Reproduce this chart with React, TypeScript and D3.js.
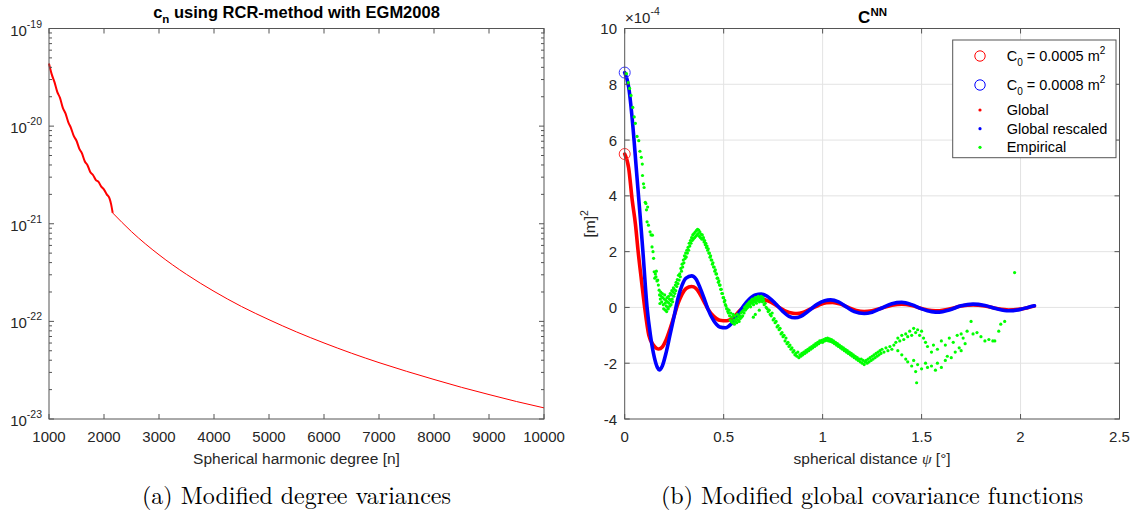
import React from 'react';
import * as d3 from 'd3';

// ---------- Left chart data: modified degree variances c_n ----------
const degreesNoisy = [1000, 1050, 1100, 1150, 1200, 1250, 1300, 1350, 1400, 1450, 1500, 1550, 1600, 1650, 1700, 1750, 1800, 1850, 1900, 1950, 2000, 2050, 2100, 2130, 2158];
const cnNoisy = [4.37e-20, 3.39e-20, 2.82e-20, 2.24e-20, 1.95e-20, 1.55e-20, 1.35e-20, 1.10e-20, 9.55e-21, 7.94e-21, 7.08e-21, 5.89e-21, 5.25e-21, 4.37e-21, 3.98e-21, 3.39e-21, 3.16e-21, 2.82e-21, 2.69e-21, 2.40e-21, 2.24e-21, 2.00e-21, 1.82e-21, 1.58e-21, 1.29e-21];
const degreesTail = [2158, 2500, 3000, 3500, 4000, 4500, 5000, 5500, 6000, 6500, 7000, 7500, 8000, 8500, 9000, 9500, 10000];
const cnTail = [1.29e-21, 8.30e-22, 4.81e-22, 3.03e-22, 2.03e-22, 1.42e-22, 1.04e-22, 7.80e-23, 6.01e-23, 4.72e-23, 3.78e-23, 3.08e-23, 2.54e-23, 2.11e-23, 1.78e-23, 1.51e-23, 1.30e-23];
const degreeTicks = [1000, 2000, 3000, 4000, 5000, 6000, 7000, 8000, 9000, 10000];
const decadeExponents = [-19, -20, -21, -22, -23];

// ---------- Right chart data: covariance functions (units of 1e-4 m^2) ----------
const psiGlobal = [0, 0.02, 0.038, 0.054, 0.068, 0.085, 0.1, 0.122, 0.145, 0.16, 0.172, 0.19, 0.21, 0.23, 0.25, 0.27, 0.29, 0.31, 0.338, 0.36, 0.38, 0.4, 0.42, 0.45, 0.48, 0.515, 0.55, 0.58, 0.62, 0.65, 0.69, 0.73, 0.77, 0.81, 0.85, 0.87, 0.9, 0.94, 0.98, 1.02, 1.05, 1.09, 1.13, 1.17, 1.21, 1.25, 1.3, 1.35, 1.4, 1.45, 1.5, 1.55, 1.59, 1.64, 1.7, 1.76, 1.82, 1.88, 1.94, 2.0, 2.04, 2.07];
const valuesGlobal = [5.5, 5.0, 3.84, 3.0, 2.0, 0.95, 0.05, -1.0, -1.35, -1.46, -1.49, -1.42, -1.15, -0.75, -0.3, 0.15, 0.48, 0.68, 0.75, 0.68, 0.48, 0.22, -0.05, -0.32, -0.46, -0.48, -0.35, -0.12, 0.12, 0.26, 0.3, 0.22, 0.05, -0.12, -0.21, -0.22, -0.18, -0.05, 0.08, 0.17, 0.18, 0.12, 0.0, -0.11, -0.15, -0.12, -0.02, 0.08, 0.12, 0.07, -0.04, -0.11, -0.12, -0.06, 0.05, 0.09, 0.05, -0.04, -0.09, -0.06, 0.0, 0.05];
const psiRescaled = [0, 0.02, 0.04, 0.06, 0.08, 0.092, 0.113, 0.13, 0.15, 0.165, 0.175, 0.19, 0.21, 0.23, 0.25, 0.27, 0.29, 0.31, 0.338, 0.36, 0.38, 0.4, 0.42, 0.45, 0.48, 0.51, 0.54, 0.57, 0.6, 0.63, 0.66, 0.69, 0.72, 0.76, 0.8, 0.83, 0.86, 0.89, 0.93, 0.97, 1.01, 1.04, 1.08, 1.12, 1.16, 1.21, 1.25, 1.3, 1.35, 1.4, 1.45, 1.5, 1.55, 1.59, 1.64, 1.7, 1.76, 1.82, 1.88, 1.94, 2.0, 2.04, 2.07];
const valuesRescaled = [8.42, 7.9, 6.6, 4.85, 3.1, 2.0, 0.0, -1.0, -1.8, -2.15, -2.24, -2.1, -1.6, -0.95, -0.3, 0.35, 0.8, 1.05, 1.13, 1.02, 0.72, 0.35, -0.05, -0.48, -0.7, -0.73, -0.58, -0.28, 0.05, 0.3, 0.45, 0.48, 0.4, 0.15, -0.15, -0.32, -0.37, -0.32, -0.12, 0.1, 0.24, 0.27, 0.2, 0.02, -0.15, -0.22, -0.17, -0.02, 0.13, 0.18, 0.1, -0.05, -0.15, -0.17, -0.09, 0.06, 0.12, 0.07, -0.05, -0.12, -0.07, 0.01, 0.06];
const empirical: [number, number][] = [
  [0.009, 8.38], [0.018, 8.06], [0.025, 7.85], [0.032, 7.6], [0.041, 7.17], [0.048, 6.83], [0.054, 6.6], [0.0625, 6.13], [0.071, 5.98], [0.077, 5.6], [0.084, 5.38], [0.089, 5.14], [0.09, 4.73], [0.095, 4.43], [0.098, 4.3], [0.104, 3.77], [0.107, 3.73], [0.116, 3.6],
  [0.11, 3.5], [0.113, 3.07], [0.12, 2.95], [0.128, 2.71], [0.133, 2.6], [0.14, 2.59], [0.138, 2.17], [0.143, 2.0], [0.146, 1.76], [0.149, 1.28], [0.152, 1.05], [0.155, 1.2], [0.158, 1.1], [0.16, 1.3], [0.163, 0.95], [0.167, 0.98], [0.17, 0.8], [0.174, 0.62], [0.176, 0.45], [0.178, 0.14], [0.18, 0.3],
  [0.182, 0.55], [0.185, 0.4], [0.187, 0.2], [0.19, 0.5], [0.192, 0.35], [0.195, 0.1], [0.197, -0.05], [0.2, 0.3], [0.202, 0.45], [0.204, 0.15], [0.206, -0.1], [0.208, 0.25], [0.21, 0.05], [0.212, -0.15], [0.214, 0.35], [0.216, 0.2], [0.218, 0.0], [0.22, -0.05], [0.222, 0.4], [0.224, 0.15], [0.226, 0.3], [0.228, 0.05], [0.23, 0.5], [0.232, 0.25], [0.234, 0.1], [0.236, 0.45], [0.238, 0.6], [0.24, 0.3], [0.242, 0.2], [0.244, 0.55], [0.246, 0.7], [0.248, 0.4], [0.25, 0.65], [0.253, 0.5], [0.256, 0.8], [0.258, 0.6], [0.26, 0.9], [0.263, 0.75], [0.266, 1.0], [0.269, 0.85], [0.272, 1.15], [0.275, 0.98],
  [0.278, 1.2], [0.281, 1.1], [0.284, 1.4], [0.287, 1.3], [0.29, 1.55], [0.293, 1.45], [0.296, 1.7], [0.299, 1.6], [0.302, 1.85], [0.305, 1.75], [0.308, 1.95], [0.311, 1.81], [0.314, 2.05], [0.317, 1.95], [0.32, 2.15], [0.323, 2.05], [0.326, 2.3], [0.329, 2.2], [0.332, 2.4], [0.335, 2.3], [0.338, 2.5], [0.341, 2.4], [0.344, 2.6], [0.347, 2.45], [0.35, 2.65], [0.353, 2.5], [0.356, 2.7], [0.359, 2.55], [0.362, 2.75], [0.365, 2.6], [0.368, 2.8], [0.371, 2.65], [0.374, 2.77], [0.377, 2.55], [0.38, 2.7], [0.383, 2.5], [0.386, 2.62], [0.389, 2.45],
  [0.392, 2.6], [0.395, 2.45], [0.398, 2.5], [0.401, 2.35], [0.404, 2.4], [0.407, 2.25], [0.41, 2.3], [0.413, 2.15], [0.416, 2.2], [0.419, 2.05], [0.422, 2.1], [0.425, 1.95], [0.428, 1.95], [0.431, 1.8], [0.434, 1.85], [0.437, 1.7], [0.44, 1.7], [0.443, 1.55], [0.446, 1.6], [0.449, 1.45], [0.452, 1.45], [0.455, 1.3], [0.458, 1.35], [0.461, 1.2], [0.464, 1.2], [0.467, 1.05], [0.47, 1.05], [0.473, 0.9], [0.476, 0.95], [0.479, 0.8], [0.482, 0.8], [0.485, 0.65], [0.488, 0.65], [0.491, 0.5], [0.494, 0.5], [0.497, 0.35], [0.5, 0.35], [0.503, 0.2], [0.506, 0.25], [0.509, 0.1], [0.512, 0.05], [0.515, -0.05], [0.518, -0.05], [0.521, -0.15], [0.524, -0.2], [0.527, -0.1],
  [0.53, -0.3], [0.533, -0.45], [0.536, -0.2], [0.539, -0.5], [0.542, -0.35], [0.545, -0.55], [0.548, -0.25], [0.551, -0.45], [0.554, -0.6], [0.557, -0.3], [0.56, -0.5], [0.563, -0.4], [0.566, -0.55], [0.569, -0.25], [0.572, -0.45], [0.575, -0.35], [0.578, -0.5], [0.581, -0.3], [0.584, -0.4], [0.587, -0.2], [0.59, -0.35], [0.593, -0.15], [0.596, -0.3], [0.6, -0.1],
  [0.603, -0.2], [0.606, 0.0], [0.609, -0.1], [0.612, 0.05], [0.615, -0.05], [0.618, 0.1], [0.621, 0.0], [0.624, 0.15], [0.627, 0.05], [0.63, 0.2], [0.633, 0.1], [0.636, 0.02], [0.639, 0.25], [0.642, 0.15], [0.645, 0.3], [0.648, 0.2], [0.651, 0.1], [0.654, 0.3], [0.657, 0.2], [0.66, 0.35], [0.663, 0.25], [0.666, 0.15], [0.669, 0.35], [0.672, 0.25], [0.675, 0.4], [0.678, 0.3], [0.681, 0.2], [0.684, 0.35], [0.687, 0.25], [0.69, 0.4], [0.693, 0.3], [0.696, 0.2], [0.699, 0.35], [0.702, 0.25], [0.66, -0.25], [0.68, -0.1], [0.65, -0.35],
  [0.705, 0.1], [0.71, 0.15], [0.715, 0.0], [0.72, -0.05], [0.725, -0.15], [0.73, -0.1], [0.735, -0.25], [0.74, -0.3], [0.745, -0.2], [0.75, -0.45], [0.755, -0.4], [0.76, -0.55], [0.765, -0.5], [0.77, -0.7], [0.775, -0.65], [0.78, -0.8], [0.785, -0.75], [0.79, -0.95], [0.795, -0.9], [0.8, -1.05], [0.805, -1.0], [0.81, -1.2], [0.815, -1.1], [0.82, -1.3], [0.825, -1.25], [0.83, -1.4], [0.835, -1.35], [0.84, -1.5], [0.845, -1.45], [0.85, -1.6], [0.855, -1.55], [0.86, -1.7], [0.865, -1.65], [0.87, -1.75], [0.875, -1.6], [0.88, -1.8], [0.885, -1.7],
  [0.89, -1.75], [0.895, -1.65], [0.9, -1.7], [0.905, -1.6], [0.91, -1.65], [0.915, -1.55], [0.92, -1.6], [0.925, -1.5], [0.93, -1.55], [0.935, -1.45], [0.94, -1.5], [0.945, -1.4], [0.95, -1.45], [0.955, -1.35], [0.96, -1.4], [0.965, -1.3], [0.97, -1.35], [0.975, -1.25], [0.98, -1.3], [0.985, -1.2], [0.99, -1.25], [0.995, -1.18], [1.0, -1.25], [1.005, -1.15], [1.01, -1.2], [1.015, -1.12], [1.02, -1.18], [1.025, -1.1], [1.03, -1.2], [1.035, -1.13], [1.04, -1.22], [1.045, -1.15], [1.05, -1.25],
  [1.055, -1.2], [1.06, -1.3], [1.065, -1.25], [1.07, -1.35], [1.075, -1.3], [1.08, -1.4], [1.085, -1.35], [1.09, -1.45], [1.095, -1.4], [1.1, -1.5], [1.105, -1.45], [1.11, -1.55], [1.115, -1.5], [1.12, -1.6], [1.125, -1.55], [1.13, -1.65], [1.135, -1.6], [1.14, -1.7], [1.145, -1.65], [1.15, -1.75], [1.155, -1.7], [1.16, -1.8], [1.165, -1.75], [1.17, -1.85], [1.175, -1.8], [1.18, -1.9], [1.185, -1.85], [1.19, -1.95], [1.195, -1.85], [1.2, -2.0], [1.205, -1.9], [1.21, -2.05], [1.215, -1.95], [1.22, -1.9], [1.225, -2.0],
  [1.23, -1.85], [1.235, -1.95], [1.24, -1.8], [1.245, -1.9], [1.25, -1.75], [1.255, -1.85], [1.26, -1.7], [1.265, -1.8], [1.27, -1.65], [1.275, -1.75], [1.28, -1.6], [1.285, -1.7], [1.29, -1.55], [1.295, -1.65], [1.3, -1.5], [1.31, -1.6], [1.32, -1.45], [1.33, -1.55], [1.34, -1.4], [1.35, -1.5], [1.36, -1.35],
  [1.37, -1.25], [1.38, -1.1], [1.39, -1.2], [1.4, -1.0], [1.41, -1.15], [1.42, -0.95], [1.43, -1.05], [1.44, -0.85], [1.45, -1.0], [1.46, -0.75], [1.47, -0.9], [1.48, -0.8], [1.49, -1.0], [1.5, -0.85], [1.51, -1.1], [1.52, -1.25],
  [1.38, -1.55], [1.4, -1.7], [1.42, -1.85], [1.43, -1.95], [1.45, -2.1], [1.46, -1.9], [1.47, -2.3], [1.475, -2.7], [1.48, -2.05], [1.5, -2.2], [1.52, -2.0], [1.53, -2.15], [1.55, -2.1], [1.57, -2.25], [1.58, -2.0], [1.6, -2.15], [1.62, -1.9], [1.63, -1.75], [1.65, -1.8], [1.67, -1.6], [1.69, -1.45], [1.7, -1.55], [1.72, -1.3],
  [1.53, -1.4], [1.55, -1.6], [1.56, -1.35], [1.58, -1.5], [1.6, -1.2], [1.62, -1.35], [1.64, -1.1], [1.66, -1.25], [1.68, -1.0], [1.7, -0.95], [1.71, -1.1], [1.73, -0.85], [1.75, -0.5], [1.76, -0.95], [1.78, -0.9], [1.8, -1.05], [1.82, -1.2], [1.84, -1.15], [1.86, -1.2], [1.87, -1.2], [1.89, -0.85], [1.9, -0.6], [1.92, -0.5], [1.97, 1.25],
];
const psiTicks = [0, 0.5, 1, 1.5, 2, 2.5];
const covTicks = [-4, -2, 0, 2, 4, 6, 8, 10];

const FONT = "'Liberation Sans', Arial, Helvetica, sans-serif";
const SERIF = "'Latin Modern Roman', 'CMU Serif', 'Liberation Serif', 'DejaVu Serif', serif";
const AX = '#555555';
const TXT = '#262626';

export default function App() {
  // Left panel geometry
  const L = { x0: 49, x1: 544, y0: 28.5, y1: 419 };
  const xL = d3.scaleLinear().domain([1000, 10000]).range([L.x0, L.x1]);
  const yL = d3.scaleLog().domain([1e-23, 1e-19]).range([L.y1, L.y0]);
  const lineL = d3.line<[number, number]>().x(d => xL(d[0])).y(d => yL(d[1])).curve(d3.curveMonotoneX);
  const noisyPts = degreesNoisy.map((n, i) => [n, cnNoisy[i]] as [number, number]);
  const tailPts = degreesTail.map((n, i) => [n, cnTail[i]] as [number, number]);
  const minorL: number[] = [];
  for (let e = -23; e < -19; e++) for (let m = 2; m <= 9; m++) minorL.push(m * Math.pow(10, e));

  // Right panel geometry
  const R = { x0: 624.7, x1: 1119.5, y0: 28.5, y1: 419 };
  const xR = d3.scaleLinear().domain([0, 2.5]).range([R.x0, R.x1]);
  const yR = d3.scaleLinear().domain([-4, 10]).range([R.y1, R.y0]);
  const lineR = d3.line<[number, number]>().x(d => xR(d[0])).y(d => yR(d[1])).curve(d3.curveMonotoneX);
  const globalPts = psiGlobal.map((p, i) => [p, valuesGlobal[i]] as [number, number]);
  const rescaledPts = psiRescaled.map((p, i) => [p, valuesRescaled[i]] as [number, number]);

  const tk = 5;
  return (
    <svg width={1137} height={512} style={{ position: 'absolute', left: 0, top: 0, background: '#fff' }} fontFamily={FONT}>
      <rect x={0} y={0} width={1137} height={512} fill="#fff" />

      {/* ---------------- Left panel ---------------- */}
      <rect x={L.x0} y={L.y0} width={L.x1 - L.x0} height={L.y1 - L.y0} fill="#fff" />
      <path d={lineL(noisyPts) || ''} fill="none" stroke="#ff0000" strokeWidth={2} />
      <path d={lineL(tailPts) || ''} fill="none" stroke="#ff0000" strokeWidth={1} />
      <rect x={L.x0} y={L.y0} width={L.x1 - L.x0} height={L.y1 - L.y0} fill="none" stroke={AX} strokeWidth={1} />
      {degreeTicks.map(t => (
        <g key={'lx' + t}>
          <line x1={xL(t)} x2={xL(t)} y1={L.y1} y2={L.y1 - tk} stroke={AX} />
          <line x1={xL(t)} x2={xL(t)} y1={L.y0} y2={L.y0 + tk} stroke={AX} />
          <text x={xL(t)} y={442} textAnchor="middle" fontSize={15} fill={TXT}>{t}</text>
        </g>
      ))}
      {decadeExponents.map(e => (
        <g key={'ly' + e}>
          <line x1={L.x0} x2={L.x0 + tk} y1={yL(Math.pow(10, e))} y2={yL(Math.pow(10, e))} stroke={AX} />
          <line x1={L.x1} x2={L.x1 - tk} y1={yL(Math.pow(10, e))} y2={yL(Math.pow(10, e))} stroke={AX} />
          <text x={42} y={yL(Math.pow(10, e)) + 7} textAnchor="end" fontSize={15} fill={TXT}>
            10<tspan dy={-8} fontSize={10.5}>{e}</tspan>
          </text>
        </g>
      ))}
      {minorL.map((v, i) => (
        <g key={'lm' + i}>
          <line x1={L.x0} x2={L.x0 + 3} y1={yL(v)} y2={yL(v)} stroke={AX} />
          <line x1={L.x1} x2={L.x1 - 3} y1={yL(v)} y2={yL(v)} stroke={AX} />
        </g>
      ))}
      <text x={(L.x0 + L.x1) / 2} y={18} textAnchor="middle" fontSize={16.5} fontWeight="bold" fill="#000">
        c<tspan dy={5} fontSize={11.5}>n</tspan><tspan dy={-5}> using RCR-method with EGM2008</tspan>
      </text>
      <text x={(L.x0 + L.x1) / 2} y={464} textAnchor="middle" fontSize={15.5} fill={TXT}>Spherical harmonic degree [n]</text>
      <text x={(L.x0 + L.x1) / 2} y={504} textAnchor="middle" fontSize={24} fontFamily={SERIF} fill="#000">(a) Modified degree variances</text>

      {/* ---------------- Right panel ---------------- */}
      <rect x={R.x0} y={R.y0} width={R.x1 - R.x0} height={R.y1 - R.y0} fill="#fff" />
      {psiTicks.slice(1, -1).map(t => (
        <line key={'gx' + t} x1={xR(t)} x2={xR(t)} y1={R.y0} y2={R.y1} stroke="#e3e3e3" />
      ))}
      {covTicks.slice(1, -1).map(t => (
        <line key={'gy' + t} x1={R.x0} x2={R.x1} y1={yR(t)} y2={yR(t)} stroke="#e3e3e3" />
      ))}
      <path d={lineR(globalPts) || ''} fill="none" stroke="#ff0000" strokeWidth={3.6} strokeLinecap="round" />
      <path d={lineR(rescaledPts) || ''} fill="none" stroke="#0000ff" strokeWidth={3.6} strokeLinecap="round" />
      {empirical.map((d, i) => (
        <circle key={'e' + i} cx={xR(d[0])} cy={yR(d[1])} r={1.6} fill="#00ff00" />
      ))}
      <circle cx={xR(0)} cy={yR(5.5)} r={5.5} fill="none" stroke="#ff3333" strokeWidth={1} />
      <circle cx={xR(0)} cy={yR(8.42)} r={5.5} fill="none" stroke="#3333ff" strokeWidth={1} />
      <rect x={R.x0} y={R.y0} width={R.x1 - R.x0} height={R.y1 - R.y0} fill="none" stroke={AX} strokeWidth={1} />
      {psiTicks.map(t => (
        <g key={'rx' + t}>
          <line x1={xR(t)} x2={xR(t)} y1={R.y1} y2={R.y1 - tk} stroke={AX} />
          <line x1={xR(t)} x2={xR(t)} y1={R.y0} y2={R.y0 + tk} stroke={AX} />
          <text x={xR(t)} y={442} textAnchor="middle" fontSize={15} fill={TXT}>{t}</text>
        </g>
      ))}
      {covTicks.map(t => (
        <g key={'ry' + t}>
          <line x1={R.x0} x2={R.x0 + tk} y1={yR(t)} y2={yR(t)} stroke={AX} />
          <line x1={R.x1} x2={R.x1 - tk} y1={yR(t)} y2={yR(t)} stroke={AX} />
          <text x={617} y={yR(t) + 5.5} textAnchor="end" fontSize={15} fill={TXT}>{t}</text>
        </g>
      ))}
      <text x={625} y={23} fontSize={15} fill={TXT}>×10<tspan dy={-8} fontSize={10.5}>-4</tspan></text>
      <text x={(R.x0 + R.x1) / 2 - 14} y={23} textAnchor="start" fontSize={17} fontWeight="bold" fill="#000">
        C<tspan dy={-7} fontSize={11.5}>NN</tspan>
      </text>
      <text transform={`translate(595, ${(R.y0 + R.y1) / 2}) rotate(-90)`} textAnchor="middle" fontSize={15.5} fill={TXT}>
        [m]<tspan dy={-7} fontSize={10.5}>2</tspan>
      </text>
      <text x={(R.x0 + R.x1) / 2} y={464} textAnchor="middle" fontSize={15.5} fill={TXT}>
        spherical distance <tspan fontStyle="italic" fontFamily={SERIF}>ψ</tspan> [°]
      </text>
      <text x={(R.x0 + R.x1) / 2} y={504} textAnchor="middle" fontSize={24} fontFamily={SERIF} fill="#000">(b) Modified global covariance functions</text>

      {/* Legend */}
      <rect x={952.7} y={40} width={163.3} height={117.7} fill="#fff" stroke={AX} strokeWidth={1} />
      <circle cx={980} cy={56} r={5.2} fill="none" stroke="#ff0000" />
      <text x={1006.7} y={61} fontSize={14.5} fill="#000">C<tspan dy={5} fontSize={10}>0</tspan><tspan dy={-5}> = 0.0005 m</tspan><tspan dy={-7} fontSize={10}>2</tspan></text>
      <circle cx={980} cy={85} r={5.2} fill="none" stroke="#0000ff" />
      <text x={1006.7} y={90} fontSize={14.5} fill="#000">C<tspan dy={5} fontSize={10}>0</tspan><tspan dy={-5}> = 0.0008 m</tspan><tspan dy={-7} fontSize={10}>2</tspan></text>
      <circle cx={980} cy={110} r={1.6} fill="#ff0000" />
      <text x={1006.7} y={115} fontSize={14.5} fill="#000">Global</text>
      <circle cx={980} cy={128.7} r={1.6} fill="#0000ff" />
      <text x={1006.7} y={133.7} fontSize={14.5} fill="#000">Global rescaled</text>
      <circle cx={980} cy={147.3} r={1.6} fill="#00ff00" />
      <text x={1006.7} y={152.3} fontSize={14.5} fill="#000">Empirical</text>
    </svg>
  );
}
